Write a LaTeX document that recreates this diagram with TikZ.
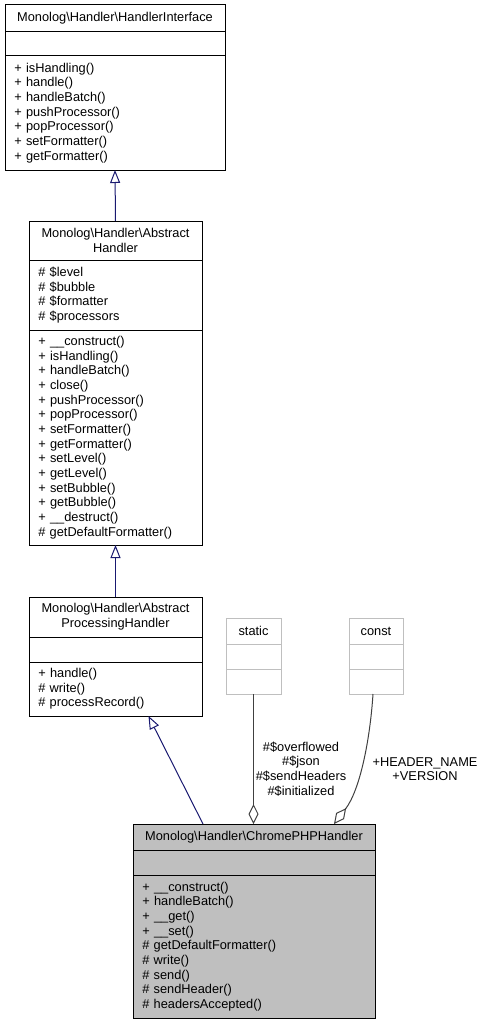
\documentclass[tikz,border=0pt]{standalone}
\usepackage{fontspec}
\setmainfont{Liberation Sans}
\usepackage{xcolor}
\definecolor{inhBlue}{HTML}{191970}
\definecolor{aggrGray}{HTML}{404040}
\definecolor{tmplGray}{HTML}{BFBFBF}
\definecolor{focusGray}{HTML}{BFBFBF}
\usepackage{tikz}
\usetikzlibrary{arrows.meta, positioning, calc}

\begin{document}
\begin{tikzpicture}[
    x=0.75pt, y=-0.75pt,
    umltitle/.style={
        rectangle,
        draw=black,
        line width=0.75pt,
        fill=white,
        anchor=north,
        outer sep=0pt,
        inner xsep=4pt,
        inner ysep=0pt,
        align=center,
        font=\fontsize{9.6}{11}\selectfont
    },
    umlpart/.style={
        rectangle,
        draw=black,
        line width=0.75pt,
        fill=white,
        outer sep=0pt,
        inner xsep=7pt,
        inner ysep=0pt,
        text width=#1,
        align=left,
        font=\fontsize{9.6}{11}\selectfont
    },
    inherit/.style={
        draw=inhBlue,
        line width=0.75pt,
        -{Triangle[open, length=9.75pt, width=7.5pt]}
    },
    aggr/.style={
        draw=aggrGray,
        line width=0.75pt,
        -{Diamond[open, length=15pt, width=7.5pt]}
    },
    edgelabel/.style={
        align=center,
        inner sep=0pt,
        font=\fontsize{9.6}{11}\selectfont
    }
]
\useasboundingbox (0,0) rectangle (486,1024);

\node[umltitle, minimum width=165pt, minimum height=20.25pt] (hi) at (115,5) {Monolog\textbackslash Handler\textbackslash HandlerInterface};
\node[umlpart=151pt, minimum height=18pt, below=0pt of hi] (hia) {};
\node[umlpart=151pt, minimum height=85.5pt, below=0pt of hia] (him) {+ isHandling()\\+ handle()\\+ handleBatch()\\+ pushProcessor()\\+ popProcessor()\\+ setFormatter()\\+ getFormatter()};

\node[umltitle, minimum width=129.75pt, minimum height=29.25pt] (ah) at (115.5,221) {Monolog\textbackslash Handler\textbackslash Abstract\\Handler};
\node[umlpart=115.75pt, minimum height=52.5pt, below=0pt of ah] (aha) {\# \$level\\\# \$bubble\\\# \$formatter\\\# \$processors};
\node[umlpart=115.75pt, minimum height=161.25pt, below=0pt of aha] (ahm) {+ \_\_construct()\\+ isHandling()\\+ handleBatch()\\+ close()\\+ pushProcessor()\\+ popProcessor()\\+ setFormatter()\\+ getFormatter()\\+ setLevel()\\+ getLevel()\\+ setBubble()\\+ getBubble()\\+ \_\_destruct()\\\# getDefaultFormatter()};

\node[umltitle, minimum width=129.75pt, minimum height=30pt] (aph) at (115.5,597) {Monolog\textbackslash Handler\textbackslash Abstract\\ProcessingHandler};
\node[umlpart=115.75pt, minimum height=18.75pt, below=0pt of aph] (apha) {};
\node[umlpart=115.75pt, minimum height=40.5pt, below=0pt of apha] (aphm) {+ handle()\\\# write()\\\# processRecord()};

\node[umltitle, draw=tmplGray, minimum width=41.25pt, minimum height=19.5pt] (st) at (253.5,618) {static};
\node[umlpart=27.25pt, draw=tmplGray, minimum height=18.75pt, below=0pt of st] (sta) {};
\node[umlpart=27.25pt, draw=tmplGray, minimum height=18.75pt, below=0pt of sta] (stm) {};

\node[umltitle, draw=tmplGray, minimum width=40.5pt, minimum height=19.5pt] (cn) at (376,618) {const};
\node[umlpart=26.5pt, draw=tmplGray, minimum height=18.75pt, below=0pt of cn] (cna) {};
\node[umlpart=26.5pt, draw=tmplGray, minimum height=18.75pt, below=0pt of cna] (cnm) {};

\node[umltitle, fill=focusGray, minimum width=181.5pt, minimum height=19.5pt] (chrome) at (254,824) {Monolog\textbackslash Handler\textbackslash ChromePHPHandler};
\node[umlpart=167.5pt, fill=focusGray, minimum height=18.75pt, below=0pt of chrome] (chromea) {};
\node[umlpart=167.5pt, fill=focusGray, minimum height=107.25pt, below=0pt of chromea] (chromem) {+ \_\_construct()\\+ handleBatch()\\+ \_\_get()\\+ \_\_set()\\\# getDefaultFormatter()\\\# write()\\\# send()\\\# sendHeader()\\\# headersAccepted()};

\draw[inherit] (ah.north) -- (him.south);
\draw[inherit] (aph.north) -- (ahm.south);
\draw[inherit] ($(chrome.north)+(-51,0)$) -- ($(aphm.south)+(33,0)$);
\draw[aggr] (stm.south) -- (stm.south |- chrome.north);
\draw[aggr] ($(cnm.south)+(-3,0)$) .. controls ($(cnm.south)+(-6,46)$) and ($(chrome.north)+(106,-34)$) .. ($(chrome.north)+(80,0)$);

\node[edgelabel] (stlabel) at (301,769) {\#\$overflowed\\\#\$json\\\#\$sendHeaders\\\#\$initialized};
\node[edgelabel] (cnlabel) at (425,769) {+HEADER\_NAME\\+VERSION};
\end{tikzpicture}
\end{document}
